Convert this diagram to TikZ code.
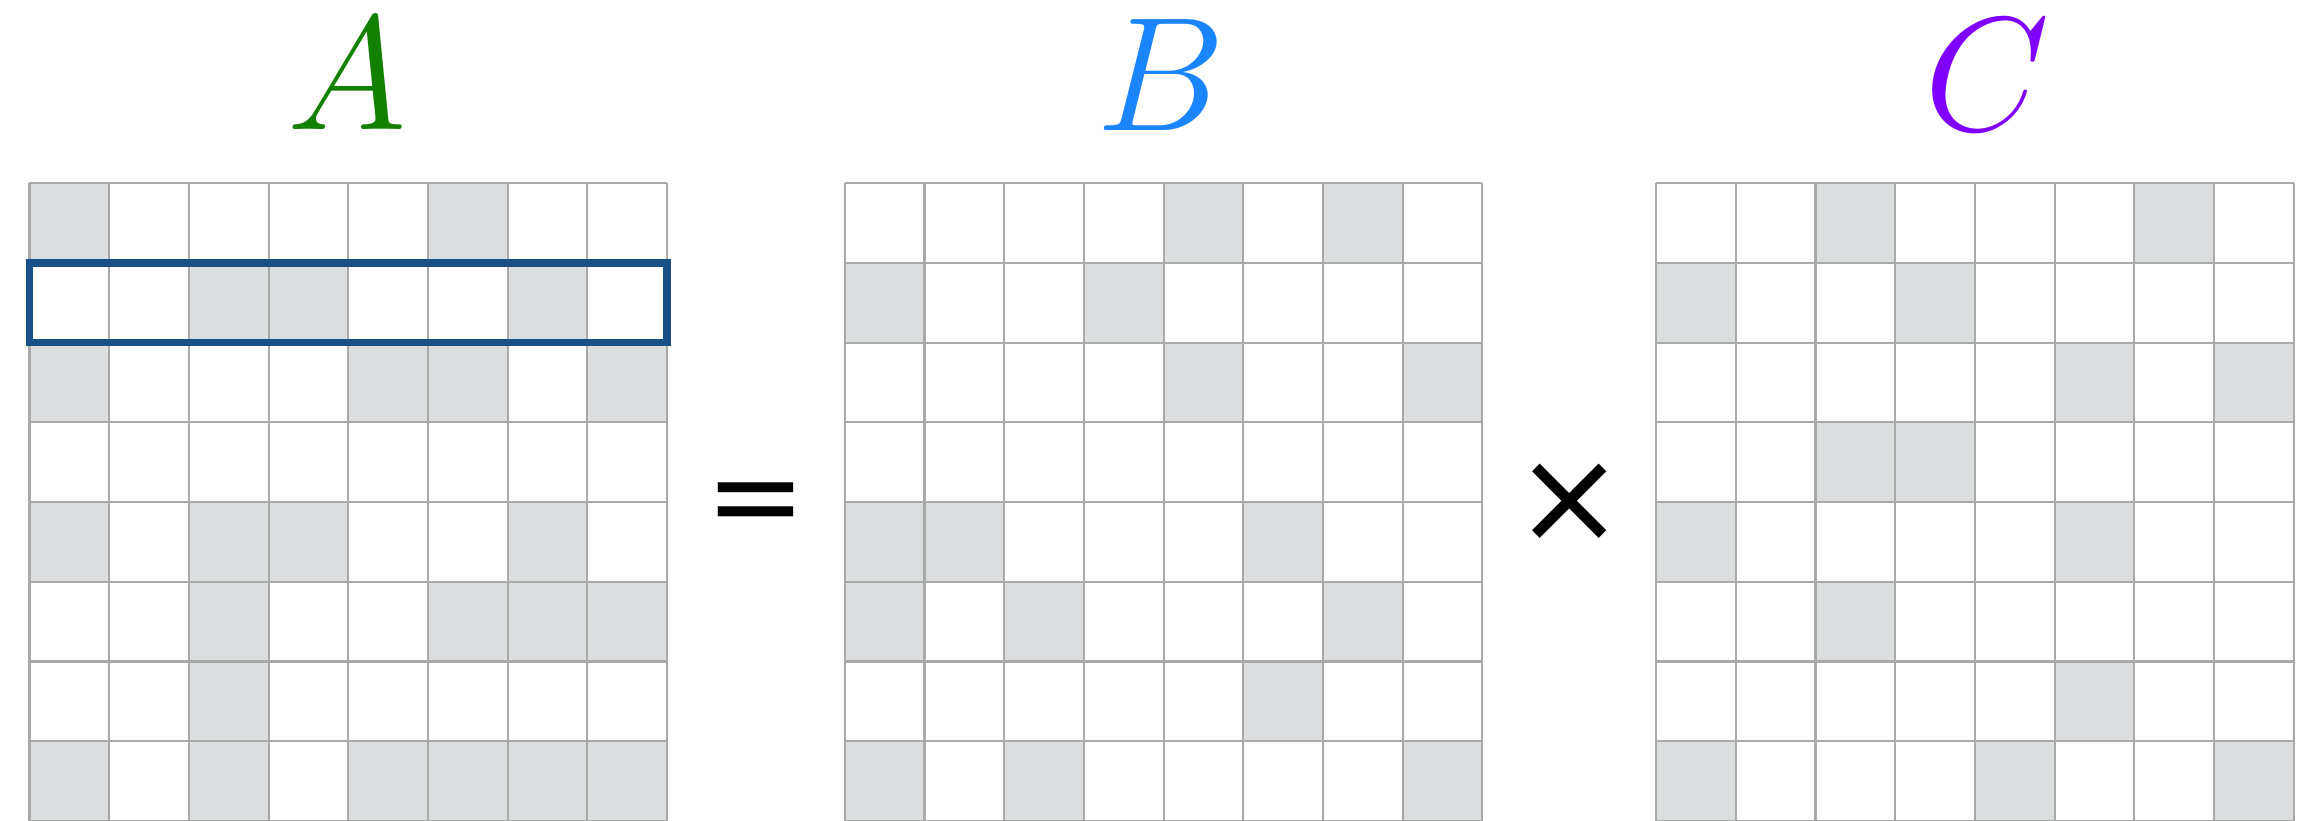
\documentclass[tikz,border=0pt]{standalone}
\usepackage{fontspec}
\newfontfamily\opfont{DejaVu Sans}
\usetikzlibrary{positioning}

\definecolor{cellgray}{HTML}{DCDDDF}
\definecolor{gridgray}{HTML}{A8AAAA}
\definecolor{rowblue}{HTML}{185187}
\definecolor{matA}{HTML}{138000}
\definecolor{matB}{HTML}{1A85FF}
\definecolor{matC}{HTML}{8000FF}

\begin{document}
\begin{tikzpicture}[
    cell/.style={fill=cellgray},
    gridline/.style={draw=gridgray, line width=0.75pt},
    lbl/.style={font=\Huge, scale=2.33, inner sep=0pt, anchor=base},
    op/.style={font=\opfont\fontsize{43}{45}\selectfont, inner sep=0pt},
    rowbox/.style={draw=rowblue, line width=2.7pt}
  ]
    \useasboundingbox (0,0) rectangle (28.91,10.30);

    % matrix A (cells as col/row, row 0 on top)
    \begin{scope}[xshift=0.37cm]
      \foreach \c/\r in {0/0,5/0, 2/1,3/1,6/1, 0/2,4/2,5/2,7/2,
                         0/4,2/4,3/4,6/4, 2/5,5/5,6/5,7/5, 2/6,
                         0/7,2/7,4/7,5/7,6/7,7/7}
        \fill[cell] (\c,7-\r) rectangle ++(1,1);
      \draw[gridline] (0,0) grid (8,8);
      \draw[rowbox] (0,6) rectangle (8,7);
    \end{scope}

    % matrix B
    \begin{scope}[xshift=10.60cm]
      \foreach \c/\r in {4/0,6/0, 0/1,3/1, 4/2,7/2,
                         0/4,1/4,5/4, 0/5,2/5,6/5, 5/6, 0/7,2/7,7/7}
        \fill[cell] (\c,7-\r) rectangle ++(1,1);
      \draw[gridline] (0,0) grid (8,8);
    \end{scope}

    % matrix C
    \begin{scope}[xshift=20.78cm]
      \foreach \c/\r in {2/0,6/0, 0/1,3/1, 5/2,7/2, 2/3,3/3,
                         0/4,5/4, 2/5, 5/6, 0/7,4/7,7/7}
        \fill[cell] (\c,7-\r) rectangle ++(1,1);
      \draw[gridline] (0,0) grid (8,8);
    \end{scope}

    \node[lbl, text=matA] (labA) at (4.35,8.67) {$A$};
    \node[lbl, text=matB] (labB) at (14.57,8.66) {$B$};
    \node[lbl, text=matC] (labC) at (24.94,8.66) {$C$};

    \node[op] (eq) at (9.49,3.90) {=};
    \node[op, font=\opfont\fontsize{47}{49}\selectfont] (times) at (19.70,3.99) {×};
\end{tikzpicture}
\end{document}
